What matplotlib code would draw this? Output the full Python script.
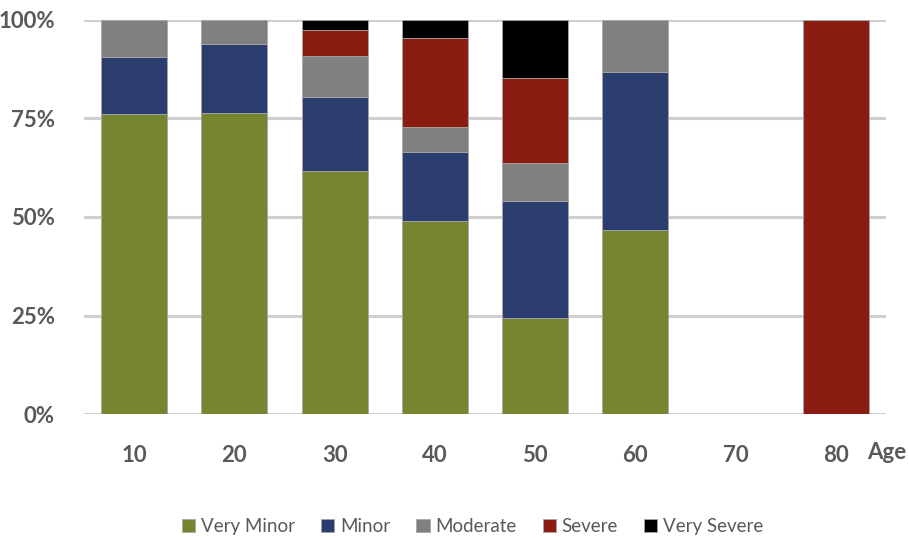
import numpy as np
import matplotlib.pyplot as plt

# Share of injury severity by age group (percent)
ages = ['10', '20', '30', '40', '50', '60', '70', '80']
very_minor = [76.1, 76.4, 61.6, 49.1, 24.4, 46.6, 0, 0]
minor = [14.4, 17.6, 18.8, 17.5, 29.6, 40.1, 0, 0]
moderate = [9.5, 6.0, 10.4, 6.3, 9.8, 13.3, 0, 0]
severe = [0, 0, 6.7, 22.5, 21.4, 0, 0, 100]
very_severe = [0, 0, 2.5, 4.6, 14.8, 0, 0, 0]

series = [
    ('Very Minor', very_minor, '#76852f'),
    ('Minor', minor, '#2b3d6e'),
    ('Moderate', moderate, '#808080'),
    ('Severe', severe, '#8b1c12'),
    ('Very Severe', very_severe, '#000000'),
]

plt.rcParams['font.family'] = ['Lato', 'DejaVu Sans']

fig = plt.figure(figsize=(9.09, 5.40), dpi=100)
ax = fig.add_axes([0.0924, 0.2333, 0.8823, 0.7297])

x = np.arange(len(ages))
bottom = np.zeros(len(ages))
for name, vals, color in series:
    vals = np.array(vals, dtype=float)
    ax.bar(x, vals, width=0.66, bottom=bottom, color=color, label=name,
           edgecolor='#a6a6a6', linewidth=0.6, zorder=3)
    bottom += vals

ax.set_xlim(-0.5, len(ages) - 0.5)
ax.set_ylim(0, 100)
ax.set_yticks([0, 25, 50, 75, 100])
ax.set_yticklabels(['0%', '25%', '50%', '75%', '100%'])
ax.set_xticks(x)
ax.set_xticklabels(ages)
ax.grid(axis='y', color='#cfcfcf', linewidth=2.2, zorder=0)
ax.set_axisbelow(True)
for s in ax.spines.values():
    s.set_visible(False)
ax.tick_params(length=0, labelsize=16, labelcolor='#595959')
ax.tick_params(axis='x', pad=22)
ax.tick_params(axis='y', pad=21)
for lbl in ax.get_xticklabels() + ax.get_yticklabels():
    lbl.set_fontweight('bold')

# axis title sits just right of the last category label
ax.text(7.31, -9.8, 'Age', fontsize=16, fontweight='bold', color='#595959',
        ha='left', va='center')

fig.legend(loc='center', bbox_to_anchor=(0.52, 0.025), ncol=5, frameon=False,
           fontsize=13.5, handlelength=0.7, handleheight=0.7, handletextpad=0.3,
           columnspacing=1.4, labelcolor='#595959')

fig.savefig('out.png', dpi=100)
